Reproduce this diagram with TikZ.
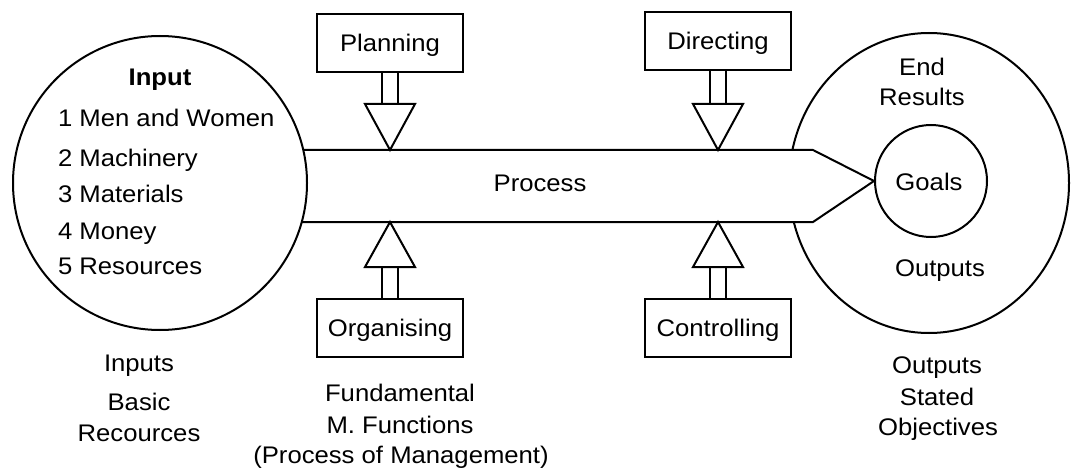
\documentclass[tikz,border=0pt]{standalone}
\usepackage{fontspec}
\setmainfont{Liberation Sans}[FakeStretch=1.07]
\usetikzlibrary{shapes.geometric}
\newcommand{\hollowarrow}[4]{%
  \path (#1.#2 |- #3) coordinate (#1apex) ++(0,#4) coordinate (#1base);
  \draw ([xshift=-8pt]#1.#2) -- ([xshift=-8pt]#1base);
  \draw ([xshift=8pt]#1.#2) -- ([xshift=8pt]#1base);
  \draw[line join=miter] (#1apex) -- ([xshift=-25pt]#1base) -- ([xshift=25pt]#1base) -- cycle;}
\begin{document}
\begin{tikzpicture}[x=1pt,y=-1pt,line width=2pt,
  txt/.style={anchor=base,inner sep=0pt,font=\fontsize{24}{28}\selectfont},
  fbox/.style={draw,fill=white,minimum width=146pt,minimum height=58pt,inner sep=0pt,
    text height=17pt,text depth=0pt,font=\fontsize{24}{28}\selectfont}]
\useasboundingbox[fill=white] (0,0) rectangle (1071,468);
% circles
\node[ellipse,draw,minimum width=280pt,minimum height=300pt,inner sep=0pt] (outc) at (929,183) {};
\node[circle,draw,minimum size=112pt,inner sep=0pt] (goals) at (931,181) {};
% band
\coordinate (bt) at (303,150);
\coordinate (bb) at (302,222);
\coordinate (rt) at (813,150);
\coordinate (rb) at (813,222);
\fill[white] (350,150) -- (rt) -- (goals.west) -- (rb) -- (350,222) -- cycle;
\node[circle,draw,minimum size=294pt,inner sep=0pt] (inc) at (160,183) {};
\draw[line join=miter] (bt) -- (rt) -- (goals.west) -- (rb) -- (bb);
% function boxes
\node[fbox] (plan) at (390,43) {Planning};
\node[fbox] (dir) at (718,41) {Directing};
\node[fbox] (org) at (390,328) {Organising};
\node[fbox] (ctrl) at (718,328) {Controlling};
\hollowarrow{plan}{south}{bt}{-46}
\hollowarrow{dir}{south}{bt}{-46}
\hollowarrow{org}{north}{bb}{45}
\hollowarrow{ctrl}{north}{bb}{45}
% texts in input circle
\node[txt,font=\fontsize{24}{28}\selectfont\bfseries] (tin) at (160,86) {Input};
\node[txt,anchor=base west] (i1) at (57,127) {1 Men and Women};
\node[txt,anchor=base west] (i2) at (57,167) {2 Machinery};
\node[txt,anchor=base west] (i3) at (57,202) {3 Materials};
\node[txt,anchor=base west] (i4) at (57,239) {4 Money};
\node[txt,anchor=base west] (i5) at (57,274) {5 Resources};
% process
\node[txt] (proc) at (540,191) {Process};
% output circle
\node[txt] (end) at (922,76) {End};
\node[txt] (res) at (922,106) {Results};
\node[txt] (gl) at (929,190) {Goals};
\node[txt] (outp) at (940,276) {Outputs};
% bottom captions
\node[txt] (b1) at (139,371) {Inputs};
\node[txt] (b2) at (139,410) {Basic};
\node[txt] (b3) at (139,441) {Recources};
\node[txt] (f1) at (400,401) {Fundamental};
\node[txt] (f2) at (400,433) {M. Functions};
\node[txt] (f3) at (401,463) {(Process of Management)};
\node[txt] (o1) at (937,373) {Outputs};
\node[txt] (o2) at (937,405) {Stated};
\node[txt] (o3) at (938,435) {Objectives};
\end{tikzpicture}
\end{document}
